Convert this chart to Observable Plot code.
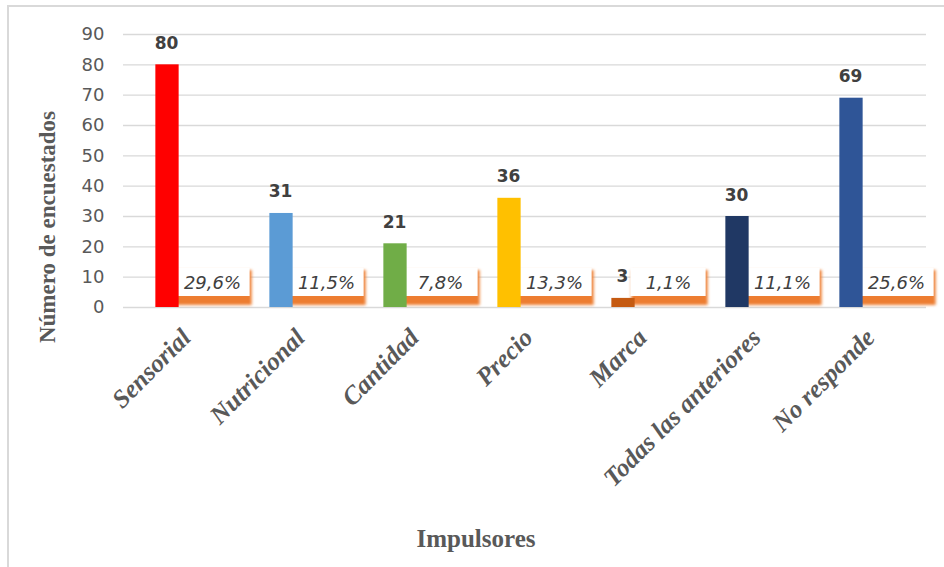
<!DOCTYPE html>
<html>
<head>
<meta charset="utf-8">
<script src="https://cdn.jsdelivr.net/npm/d3@7"></script>
<script src="https://cdn.jsdelivr.net/npm/@observablehq/plot@0.6"></script>
<style>
  html, body { margin: 0; padding: 0; background: #fff; overflow: hidden; }
  #wrap { position: relative; width: 944px; height: 567px; }
  #border { position: absolute; left: 7px; top: 5px; width: 960px; height: 600px; border: 2px solid #d9d9d9; box-sizing: border-box; pointer-events: none; }
  #chart { position: absolute; left: 0; top: 0; }
</style>
</head>
<body>
<div id="wrap"><div id="chart"></div><div id="border"></div></div>
<script>
const categories = ["Sensorial", "Nutricional", "Cantidad", "Precio", "Marca", "Todas las anteriores", "No responde"];
const values = [80, 31, 21, 36, 3, 30, 69];
const percents = [29.6, 11.5, 7.8, 13.3, 1.1, 11.1, 25.6];
const colors = ["#FF0000", "#5B9BD5", "#70AD47", "#FFC000", "#C55A11", "#203864", "#2F5597"];
const yTicks = [0, 10, 20, 30, 40, 50, 60, 70, 80, 90];
const yTitle = "Número de encuestados";
const xTitle = "Impulsores";

const data = categories.map((c, i) => ({cat: c, value: values[i], pct: percents[i], color: colors[i]}));

const W = 944, H = 567, mL = 123, mR = 18, mT = 34, mB = 260;
const bw = (W - mL - mR) / categories.length;
const half = bw / 2;

const plot = Plot.plot({
  width: W,
  height: H,
  marginLeft: mL,
  marginRight: mR,
  marginTop: mT,
  marginBottom: mB,
  style: {fontFamily: "DejaVu Sans", fontSize: "18px", color: "#595959", background: "transparent"},
  x: {domain: categories, padding: 0, axis: null},
  y: {domain: [0, 90], ticks: yTicks, tickSize: 0, tickPadding: 19, label: null},
  marks: [
    Plot.ruleY(yTicks, {stroke: "#d9d9d9", strokeWidth: 1.4}),
    // label box shadow (orange)
    Plot.barY(data, {x: "cat", y1: 0, y2: 0, fill: "#ED7D31",
      insetLeft: half - 8, insetRight: half - 69, insetTop: -37, insetBottom: 2,
      ariaDescription: "shadow"}),
    // label box (white)
    Plot.barY(data, {x: "cat", y1: 0, y2: 0, fill: "#ffffff",
      insetLeft: half - 9, insetRight: half - 67, insetTop: -39, insetBottom: 11}),
    // main bars
    Plot.barY(data, {x: "cat", y: "value", fill: "color",
      insetLeft: half - 28, insetRight: half + 4}),
    // percentage labels
    Plot.text(data, {x: "cat", frameAnchor: "bottom", text: d => d.pct.toFixed(1).replace(".", ",") + "%",
      dx: 29, dy: -19, lineAnchor: "bottom", fill: "#404040", fontStyle: "italic", fontSize: 18}),
    // value labels
    Plot.text(data, {x: "cat", y: "value", text: d => String(d.value),
      dx: -17, dy: -16, lineAnchor: "bottom", fill: "#404040", fontWeight: "bold", fontSize: 17}),
    // category labels
    Plot.text(categories, {x: d => d, frameAnchor: "bottom", text: d => d, rotate: -45,
      textAnchor: "end", lineAnchor: "middle", dx: 3, dy: 26, fill: "#595959",
      fontFamily: "Liberation Serif", fontWeight: "bold", fontStyle: "italic", fontSize: 25.5}),
    // y title
    Plot.text([yTitle], {frameAnchor: "left", text: d => d, rotate: -90, dx: -76, dy: 56,
      textAnchor: "middle", lineAnchor: "middle",
      fill: "#595959", fontFamily: "Liberation Serif", fontWeight: "bold", fontSize: 23}),
    // x title
    Plot.text([xTitle], {frameAnchor: "bottom", text: d => d, dx: -49, dy: 239,
      textAnchor: "middle", lineAnchor: "bottom",
      fill: "#595959", fontFamily: "Liberation Serif", fontWeight: "bold", fontSize: 25})
  ]
});

document.getElementById("chart").appendChild(plot);
plot.querySelectorAll('g[aria-description="shadow"]').forEach(g => g.style.filter = "blur(1.5px)");
</script>
</body>
</html>
